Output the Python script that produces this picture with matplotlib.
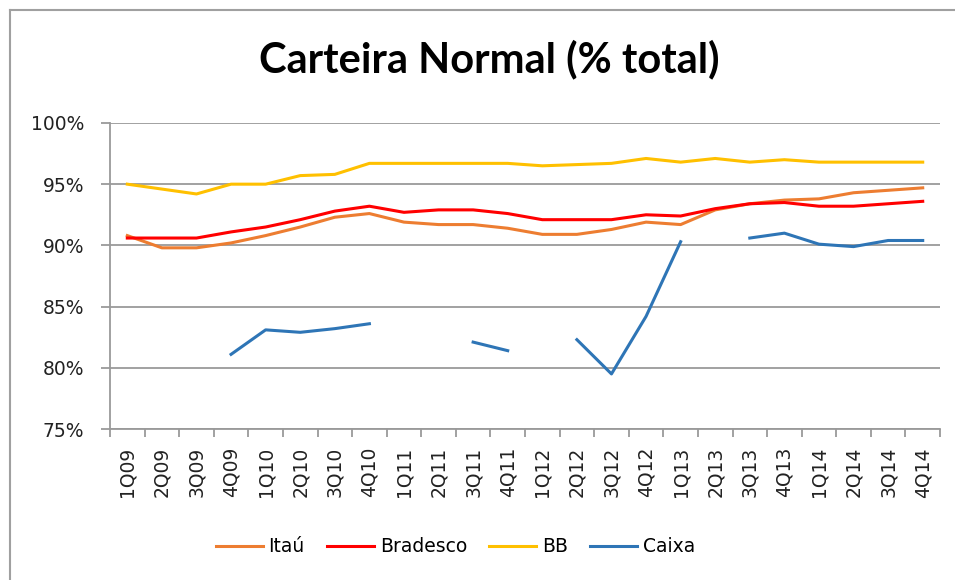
import numpy as np
import matplotlib.pyplot as plt
from matplotlib.lines import Line2D
from matplotlib.ticker import FuncFormatter, MultipleLocator

plt.rcParams['font.family'] = ['DejaVu Sans']

nan = np.nan

quarters = ['1Q09', '2Q09', '3Q09', '4Q09', '1Q10', '2Q10', '3Q10', '4Q10',
            '1Q11', '2Q11', '3Q11', '4Q11', '1Q12', '2Q12', '3Q12', '4Q12',
            '1Q13', '2Q13', '3Q13', '4Q13', '1Q14', '2Q14', '3Q14', '4Q14']

itau = [90.8, 89.8, 89.8, 90.2, 90.8, 91.5, 92.3, 92.6,
        91.9, 91.7, 91.7, 91.4, 90.9, 90.9, 91.3, 91.9,
        91.7, 92.9, 93.4, 93.7, 93.8, 94.3, 94.5, 94.7]
bradesco = [90.6, 90.6, 90.6, 91.1, 91.5, 92.1, 92.8, 93.2,
            92.7, 92.9, 92.9, 92.6, 92.1, 92.1, 92.1, 92.5,
            92.4, 93.0, 93.4, 93.5, 93.2, 93.2, 93.4, 93.6]
bb = [95.0, 94.6, 94.2, 95.0, 95.0, 95.7, 95.8, 96.7,
      96.7, 96.7, 96.7, 96.7, 96.5, 96.6, 96.7, 97.1,
      96.8, 97.1, 96.8, 97.0, 96.8, 96.8, 96.8, 96.8]
caixa = [nan, nan, nan, 81.1, 83.1, 82.9, 83.2, 83.6,
         nan, nan, 82.1, 81.4, nan, 82.3, 79.5, 84.2,
         90.3, nan, 90.6, 91.0, 90.1, 89.9, 90.4, 90.4]

series = [('Itaú', itau, '#ED7D31'),
          ('Bradesco', bradesco, '#FF0000'),
          ('BB', bb, '#FFC000'),
          ('Caixa', caixa, '#2E75B6')]

fig = plt.figure(figsize=(9.55, 5.8), dpi=100)
ax = fig.add_axes([0.1152, 0.2603, 0.8691, 0.5277])

x = np.arange(len(quarters))
for name, vals, color in series:
    ax.plot(x, vals, color=color, lw=2.2, label=name)

ax.set_xlim(-0.5, len(quarters) - 0.5)
ax.set_ylim(75, 100)
ax.yaxis.set_major_locator(MultipleLocator(5))
ax.yaxis.set_major_formatter(FuncFormatter(lambda v, p: f'{v:.0f}%'))
ax.grid(axis='y', color='#9A9A9A', lw=1.3)
ax.set_axisbelow(True)

ax.set_xticks(x)
ax.set_xticklabels(quarters, rotation=90, fontsize=13.5, color='#222222')
ax.set_xticks(np.arange(-0.5, len(quarters)), minor=True)
ax.tick_params(axis='x', which='major', length=0, pad=13)
ax.tick_params(axis='x', which='minor', length=6, width=1.3, color='#9A9A9A')
ax.tick_params(axis='y', length=6.5, width=1.3, color='#9A9A9A',
               labelsize=13.5, labelcolor='#222222', pad=12)

for side in ('top', 'right'):
    ax.spines[side].set_visible(False)
for side in ('left', 'bottom'):
    ax.spines[side].set_color('#9A9A9A')
    ax.spines[side].set_linewidth(1.3)

fig.text(0.512, 0.898, 'Carteira Normal (% total)', ha='center', va='center',
         fontsize=30, fontweight='bold', family='Lato')

fig.legend(loc='center', bbox_to_anchor=(0.477, 0.057), ncol=4, frameon=False,
           fontsize=13.5, handlelength=2.5, columnspacing=1.2, handletextpad=0.3)

# chart frame (left and top edges visible)
fig.add_artist(Line2D([0.0105, 0.0105], [0.0, 0.982], color='#A0A0A0', lw=1.5,
                      transform=fig.transFigure))
fig.add_artist(Line2D([0.0105, 1.0], [0.982, 0.982], color='#A0A0A0', lw=1.5,
                      transform=fig.transFigure))

fig.savefig('out.png', dpi=100)
